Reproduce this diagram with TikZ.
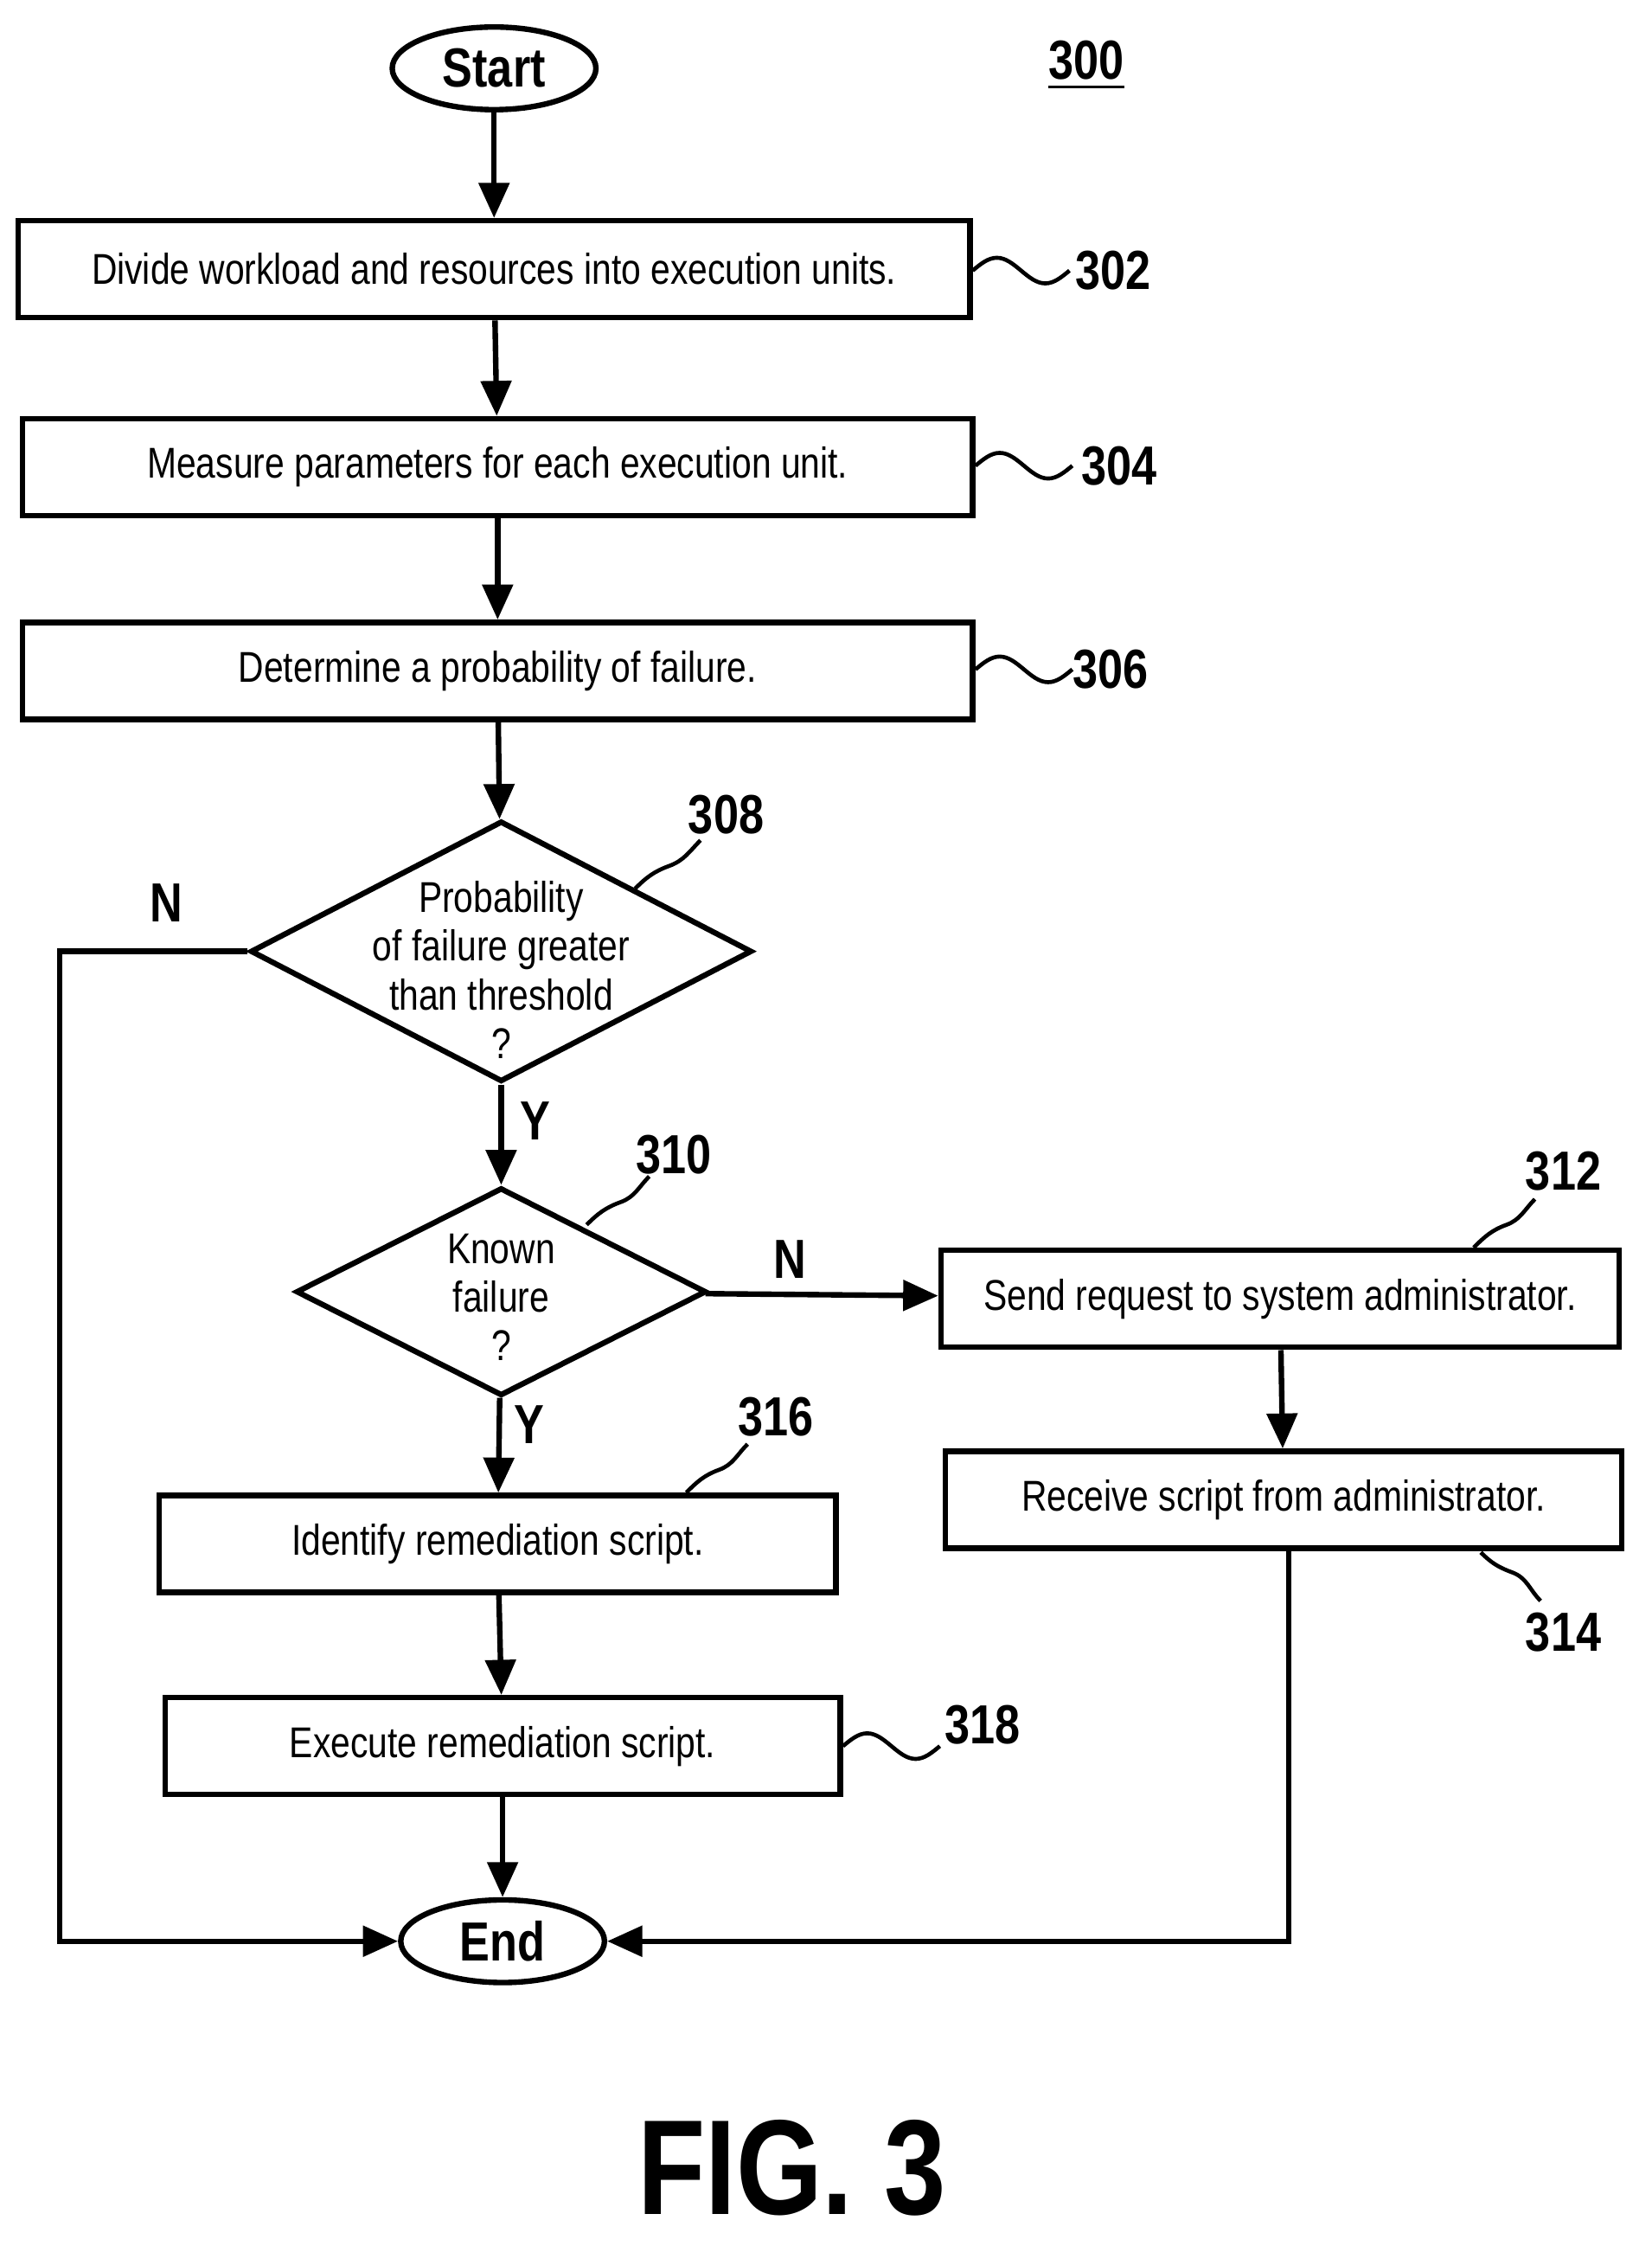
\documentclass[tikz,border=0pt]{standalone}
\usepackage{fontspec}
\setmainfont{Liberation Sans}[FakeStretch=0.82]
\usetikzlibrary{shapes.geometric,arrows.meta}
\begin{document}
\begin{tikzpicture}[x=0.01cm,y=-0.01cm,line width=1.1pt,
        font=\fontsize{8.6}{9.7}\selectfont,
        flow/.style = {-{Triangle[length=7pt,width=6pt]}},
        box/.style = {draw, rectangle, minimum height=0.68cm, inner sep=0pt},
        term/.style = {draw, ellipse, minimum width=1.43cm, minimum height=0.58cm, inner sep=0pt,
                       font=\fontsize{11}{12}\selectfont\bfseries},
        dec/.style = {draw, diamond, inner sep=0pt},
        num/.style = {font=\fontsize{11}{12}\selectfont\bfseries}]
    \useasboundingbox (0,0) rectangle (1160,1577);

    \node[term] (start) at (347,48) {Start};
    \node[box, minimum width=6.68cm] (302) at (347,189) {Divide workload and resources into execution units.};
    \node[box, minimum width=6.67cm] (304) at (349.5,328) {Measure parameters for each execution unit.};
    \node[box, minimum width=6.67cm] (306) at (349.5,471) {Determine a probability of failure.};
    \node[dec, minimum width=3.52cm, minimum height=1.83cm] (308) at (352,668) {};
    \node[align=center] (t308) at (352,681) {Probability\\of failure greater\\than threshold\\?};
    \node[dec, minimum width=2.88cm, minimum height=1.46cm] (310) at (352,907) {};
    \node[align=center] (t310) at (352,911) {Known\\failure\\?};
    \node[box, minimum width=4.76cm] (312) at (899,912) {Send request to system administrator.};
    \node[box, minimum width=4.75cm] (314) at (901.5,1053) {Receive script from administrator.};
    \node[box, minimum width=4.75cm] (316) at (349.5,1084) {Identify remediation script.};
    \node[box, minimum width=4.74cm] (318) at (353,1226) {Execute remediation script.};
    \node[term] (end) at (353,1363) {End};

    \node[num] (n300) at (763,46) {\underline{300}};
    \node[num] (n302) at (782,190) {302};
    \node[num] (n304) at (786,327) {304};
    \node[num] (n306) at (780,470) {306};
    \node[num] (n308) at (510,572) {308};
    \node[num] (n310) at (473,811) {310};
    \node[num] (n312) at (1098,822) {312};
    \node[num] (n314) at (1098,1146) {314};
    \node[num] (n316) at (545,995) {316};
    \node[num] (n318) at (690,1211) {318};
    \node[num] at (117,634) {N};
    \node[num] at (376,787) {Y};
    \node[num] at (555,884) {N};
    \node[num] at (372,1000) {Y};
    \node[font=\fontsize{27}{29}\selectfont\bfseries] (fig) at (556,1522) {FIG. 3};

    % main flow
    \draw[flow] (start) -- (302);
    \draw[flow] (302) -- (304);
    \draw[flow] (304) -- (306);
    \draw[flow] (306) -- (308);
    \draw[flow] (308) -- (310);
    \draw[flow] (310) -- (316);
    \draw[flow] (316) -- (318);
    \draw[flow] (318) -- (end);
    \draw[flow] (310) -- (312);
    \draw[flow] (312) -- (314);
    \draw[flow] (308.west) -- (42,668) |- (end.west);
    \draw[flow] (314.south -| 905,0) -- (905,1363) -- (end.east);

    % leader squiggles
    \foreach \b/\y in {302/190, 304/327, 306/470, 318/1226}
        \draw[line width=0.8pt] (\b.east |- 0,\y) sin ++(17,-9) cos ++(17,9) sin ++(17,9) cos ++(17,-9);
    \draw[line width=0.8pt] (446,624) to[out=45,in=200] (470,608) to[out=20,in=225] (492,590);
    \draw[line width=0.8pt] (412,860) to[out=45,in=200] (436,844) to[out=20,in=225] (456,826);
    \draw[line width=0.8pt] (1035,876) to[out=45,in=200] (1058,860) to[out=20,in=225] (1078,842);
    \draw[line width=0.8pt] (482,1048) to[out=45,in=200] (505,1032) to[out=20,in=225] (525,1014);
    \draw[line width=0.8pt] (1040,1090) to[out=-45,in=160] (1062,1104) to[out=-20,in=135] (1082,1124);
\end{tikzpicture}
\end{document}
